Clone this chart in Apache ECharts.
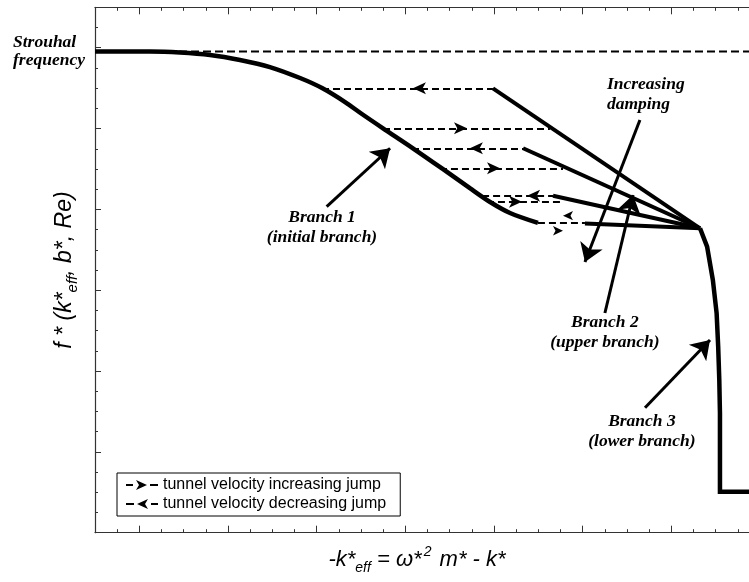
<!DOCTYPE html>
<html><head><meta charset="utf-8">
<script src="https://cdn.jsdelivr.net/npm/echarts@6/dist/echarts.min.js"></script>
<style>html,body{margin:0;padding:0;background:#fff}#c{width:749px;height:582px}</style>
</head><body><div id="c"></div>
<script>
// x: minor-tick units (0 = left frame); y: major-tick units (0 = bottom frame)
const xMajorTicks = [2, 6, 10, 14, 18, 22, 26];
const xMinorTicks = [1, 3, 4, 5, 7, 8, 9, 11, 12, 13, 15, 16, 17, 19, 20, 21, 23, 24, 25, 27, 28, 29];
const strouhalLevel = 5.953;
const strouhal = [[0, 5.953], [29.5, 5.953]];
const branch1 = [[0, 5.953], [2.48, 5.953], [3.83, 5.941], [5.19, 5.910], [6.54, 5.848], [7.89, 5.761],
  [9.25, 5.625], [10.24, 5.501], [11.28, 5.328], [12.04, 5.180], [12.99, 5.003], [14.34, 4.756],
  [15.70, 4.497], [16.91, 4.262], [17.82, 4.091], [18.72, 3.955], [19.98, 3.832]];
const branch2 = [
  [[17.95, 5.498], [27.29, 3.766]],
  [[19.31, 4.756], [27.29, 3.766]],
  [[20.66, 4.169], [27.29, 3.766]],
  [[22.10, 3.825], [27.29, 3.766]]
];
const branch3 = [[27.29, 3.766], [27.61, 3.538], [27.87, 3.126], [28.04, 2.714], [28.11, 2.301],
  [28.16, 1.889], [28.19, 1.477], [28.19, 0.507], [29.5, 0.507]];
const jumpsIncreasing = [
  [[12.99, 5.003], [20.52, 5.003]],
  [[15.56, 4.508], [21.11, 4.508]],
  [[17.68, 4.095], [21.11, 4.095]],
  [[19.98, 3.832], [22.10, 3.832]]
];
const jumpsDecreasing = [
  [[10.24, 5.498], [17.95, 5.498]],
  [[14.30, 4.756], [19.31, 4.756]],
  [[17.46, 4.169], [20.66, 4.169]]
];
const arrowsIncreasing = [[16.78, 5.003], [18.27, 4.508], [19.26, 4.095]];
const arrowsDecreasing = [[14.34, 5.498], [16.91, 4.756], [19.49, 4.169]];
const smallArrowsIncreasing = [[21.11, 3.736]];
const smallArrowsDecreasing = [[21.11, 3.922]];
const pointers = [
  [[10.45, 4.033], [13.31, 4.756]],
  [[24.58, 5.106], [22.10, 3.349]],
  [[23.00, 2.718], [24.27, 4.178]],
  [[24.81, 1.546], [27.74, 2.384]]
];
const leftNotes = [[23.09, 5.421, 'Increasing\ndamping']];
const centerNotes = [
  [10.24, 3.770, 'Branch 1\n(initial branch)'],
  [23.00, 2.471, 'Branch 2\n(upper branch)'],
  [24.67, 1.258, 'Branch 3\n(lower branch)']
];
const incName = 'tunnel velocity increasing jump';
const decName = 'tunnel velocity decreasing jump';

const axisColor = '#333';
const noteFont = {fontFamily: 'Liberation Serif', fontWeight: 'bold', fontStyle: 'italic', fontSize: 17.5, lineHeight: 20, color: '#000', opacity: 1};

function xAx(pos, ticks, len, line) {
  return {
    type: 'value', position: pos, min: 0, max: 29.5,
    axisLine: {show: line, onZero: false, lineStyle: {color: axisColor, width: 1.2}},
    axisTick: {show: true, inside: true, length: len, customValues: ticks, lineStyle: {color: axisColor, width: 1}},
    axisLabel: {show: false}, splitLine: {show: false}
  };
}
const xAxes = [xAx('bottom', xMajorTicks, 7, true), xAx('bottom', xMinorTicks, 3.5, false),
  xAx('top', xMajorTicks, 7, true), xAx('top', xMinorTicks, 3.5, false)];
xAxes[0].name = '-k*{s|eff} = ω*{p|2} m* - k*';
xAxes[0].nameLocation = 'middle';
xAxes[0].nameGap = 12;
xAxes[0].nameMoveOverlap = false;
xAxes[0].nameTextStyle = {
  fontFamily: 'Liberation Sans', fontStyle: 'italic', fontSize: 22, color: '#000', padding: [0, 10, 0, 0],
  rich: {
    s: {fontFamily: 'Liberation Sans', fontStyle: 'italic', fontSize: 14, color: '#000', padding: [16, 0, 0, 0]},
    p: {fontFamily: 'Liberation Sans', fontStyle: 'italic', fontSize: 14, color: '#000', padding: [0, 2, 16, 2]}
  }
};

const incIcon = 'path://M0 4L7 4L7 6L0 6Z M10 0L21 5L10 10L13 5Z M24 4L32 4L32 6L24 6Z';
const decIcon = 'path://M0 4L8 4L8 6L0 6Z M22 0L11 5L22 10L19 5Z M25 4L32 4L32 6L25 6Z';

const chart = echarts.init(document.getElementById('c'), null, {renderer: 'canvas'});
chart.setOption({
  animation: false,
  backgroundColor: '#fff',
  grid: {left: 95, right: 0, top: 7.3, bottom: 49.3, containLabel: false, outerBoundsMode: 'none'},
  xAxis: xAxes,
  yAxis: {
    type: 'value', min: 0, max: 6.5, interval: 1,
    axisLine: {show: true, lineStyle: {color: axisColor, width: 1.2}},
    axisTick: {show: true, inside: true, length: 6, lineStyle: {color: axisColor}},
    minorTick: {show: true, splitNumber: 4, length: 3, lineStyle: {color: axisColor}},
    splitLine: {show: false}, minorSplitLine: {show: false},
    axisLabel: {
      show: true, customValues: [strouhalLevel], formatter: () => 'Strouhal\nfrequency',
      align: 'left', margin: 82,
      fontFamily: 'Liberation Serif', fontWeight: 'bold', fontStyle: 'italic', fontSize: 17.5, lineHeight: 18, color: '#000'
    },
    name: 'f * (k*{s|eff}, b*, Re)', nameLocation: 'middle', nameRotate: 90, nameGap: 15,
    nameMoveOverlap: false,
    nameTextStyle: {
      fontFamily: 'Liberation Sans', fontStyle: 'italic', fontSize: 23, color: '#000',
      rich: {s: {fontFamily: 'Liberation Sans', fontStyle: 'italic', fontSize: 15, color: '#000', padding: [16, 0, 0, 0]}}
    }
  },
  legend: {
    left: 117, top: 473, orient: 'vertical',
    padding: [4, 14, 4, 9], itemGap: 3, itemWidth: 32, itemHeight: 10,
    borderColor: '#000', borderWidth: 1, backgroundColor: '#fff', borderRadius: 0,
    textStyle: {fontFamily: 'Liberation Sans', fontSize: 16, color: '#000'},
    selectedMode: false,
    data: [
      {name: incName, icon: incIcon, itemStyle: {color: '#000', borderWidth: 0, opacity: 1}},
      {name: decName, icon: decIcon, itemStyle: {color: '#000', borderWidth: 0, opacity: 1}}
    ]
  },
  series: [
    {name: incName, type: 'scatter', data: arrowsIncreasing, symbol: 'arrow', symbolSize: [9, 13], symbolRotate: -90,
      itemStyle: {color: '#000', opacity: 1}, z: 5, silent: true},
    {name: incName, type: 'scatter', data: smallArrowsIncreasing, symbol: 'arrow', symbolSize: [7, 10], symbolRotate: -90,
      itemStyle: {color: '#000', opacity: 1}, z: 5, silent: true},
    {name: decName, type: 'scatter', data: arrowsDecreasing, symbol: 'arrow', symbolSize: [9, 13], symbolRotate: 90,
      itemStyle: {color: '#000', opacity: 1}, z: 5, silent: true},
    {name: decName, type: 'scatter', data: smallArrowsDecreasing, symbol: 'arrow', symbolSize: [7, 10], symbolRotate: 90,
      itemStyle: {color: '#000', opacity: 1}, z: 5, silent: true},
    {name: incName, type: 'lines', coordinateSystem: 'cartesian2d', data: jumpsIncreasing.map(c => ({coords: c})),
      symbol: 'none', lineStyle: {color: '#000', width: 2.2, type: [7, 4], opacity: 1, curveness: 0}, z: 2, silent: true},
    {name: decName, type: 'lines', coordinateSystem: 'cartesian2d', data: jumpsDecreasing.map(c => ({coords: c})),
      symbol: 'none', lineStyle: {color: '#000', width: 2.2, type: [7, 4], opacity: 1, curveness: 0}, z: 2, silent: true},
    {name: 'Strouhal', type: 'line', data: strouhal, showSymbol: false,
      lineStyle: {color: '#000', width: 2.2, type: [8, 4]}, z: 2, silent: true},
    {name: 'Branch 1', type: 'line', data: branch1, showSymbol: false, smooth: 0.3,
      lineStyle: {color: '#000', width: 4.5}, z: 3, silent: true},
    {name: 'Branch 2', type: 'lines', coordinateSystem: 'cartesian2d', data: branch2.map(c => ({coords: c})),
      symbol: 'none', lineStyle: {color: '#000', width: 4, opacity: 1, curveness: 0}, z: 3, silent: true},
    {name: 'Branch 3', type: 'line', data: branch3, showSymbol: false,
      lineStyle: {color: '#000', width: 4.5, join: 'miter'}, z: 3, silent: true},
    {name: 'pointers', type: 'lines', coordinateSystem: 'cartesian2d', data: pointers.map(c => ({coords: c})),
      symbol: ['none', 'arrow'], symbolSize: 18,
      lineStyle: {color: '#000', width: 3, opacity: 1, curveness: 0}, z: 6, silent: true},
    {name: 'notesLeft', type: 'scatter', data: leftNotes, symbolSize: 0, z: 7, silent: true,
      label: {show: true, position: 'right', distance: 0, align: 'left', formatter: p => p.data[2], ...noteFont}},
    {name: 'notesCenter', type: 'scatter', data: centerNotes, symbolSize: 0, z: 7, silent: true,
      label: {show: true, position: 'inside', align: 'center', verticalAlign: 'middle', formatter: p => p.data[2], ...noteFont}}
  ]
});
</script>
</body></html>
